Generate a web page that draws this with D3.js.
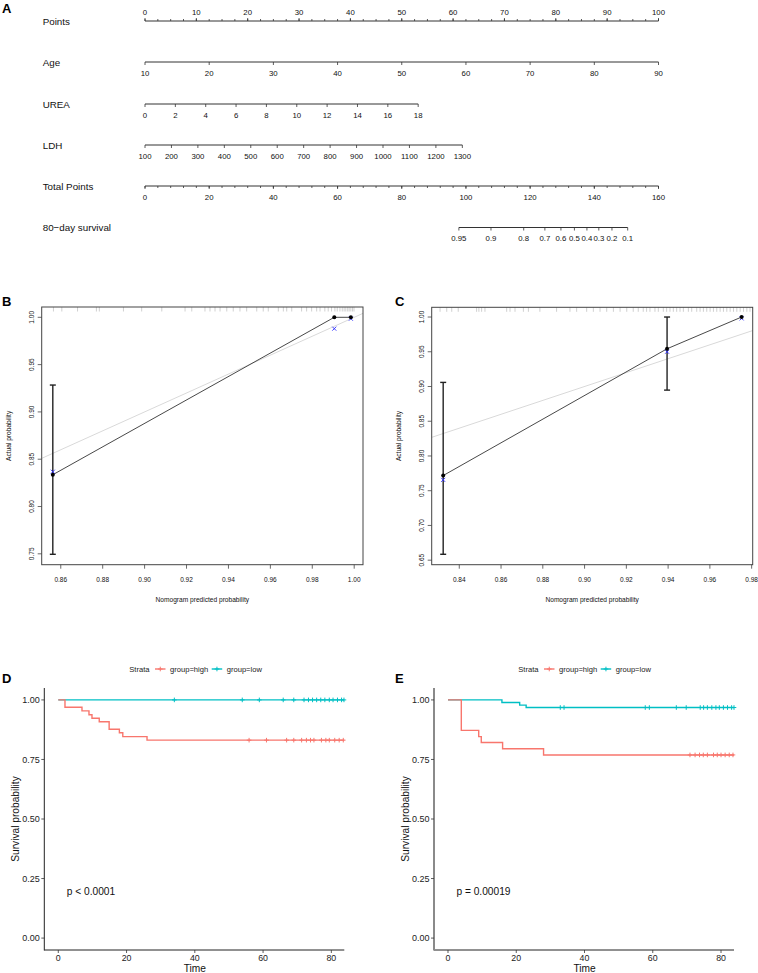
<!DOCTYPE html>
<html><head><meta charset="utf-8">
<script src="https://cdn.jsdelivr.net/npm/d3@7"></script>
<style>body{margin:0;background:#fff} svg text{font-family:"Liberation Sans",Arial,Helvetica,sans-serif}</style>
</head><body><svg id="c" width="758" height="973"></svg>
<script>
// ---------------- DATA ----------------
// Panel A nomogram
const nomoNames = ["Points","Age","UREA","LDH","Total Points","80\u2212day survival"];
const pointsLabels = [0,10,20,30,40,50,60,70,80,90,100];
const pointsMinor = [0,2.5,5,7.5,10,12.5,15,17.5,20,22.5,25,27.5,30,32.5,35,37.5,40,42.5,45,47.5,50,52.5,55,57.5,60,62.5,65,67.5,70,72.5,75,77.5,80,82.5,85,87.5,90,92.5,95,97.5,100];
const ageLabels = [10,20,30,40,50,60,70,80,90];
const ureaLabels = [0,2,4,6,8,10,12,14,16,18];
const ldhLabels = [100,200,300,400,500,600,700,800,900,1000,1100,1200,1300];
const totalLabels = [0,20,40,60,80,100,120,140,160];
const totalMinor = [0,4,8,12,16,20,24,28,32,36,40,44,48,52,56,60,64,68,72,76,80,84,88,92,96,100,104,108,112,116,120,124,128,132,136,140,144,148,152,156,160];
const survLabels = [0.95,0.9,0.8,0.7,0.6,0.5,0.4,0.3,0.2,0.1];
const survTotalPoints = [97.8,107.8,118.0,124.6,129.6,133.8,137.7,141.4,145.5,150.4];
const agePointsMax = 100, ureaPointsMax = 53.2, ldhPointsMax = 61.8;

// Panel B calibration
const bPred = [0.8562, 0.9905, 0.9984];
const bObs = [0.8336, 1.0, 1.0];
const bLo = [0.7495, null, null];
const bHi = [0.9284, null, null];
const bCorr = [0.8368, 0.988, 0.9985];
const bXTicks = [0.86,0.88,0.90,0.92,0.94,0.96,0.98,1.00];
const bYTicks = [0.75,0.80,0.85,0.90,0.95,1.00];
const bRug = [0.8565,0.8605,0.868,0.877,0.8784,0.8899,0.8986,0.9082,0.9193,0.9225,0.9288,0.9312,0.9336,0.936,0.9392,0.9423,0.9455,0.9487,0.9535,0.9566,0.959,0.9638,0.9662,0.9678,0.9702,0.9749,0.9773,0.9797,0.9821,0.9837,0.986,0.9876,0.9892,0.9908,0.9919,0.9932,0.9943,0.9952,0.996,0.9969,0.9976,0.9984,0.9992,0.9999];

// Panel C calibration
const cPred = [0.8323, 0.9395, 0.9752];
const cObs = [0.7718, 0.9543, 1.0];
const cLo = [0.6585, 0.8948, null];
const cHi = [0.9059, 1.0, null];
const cCorr = [0.7656, 0.95, 0.998];
const cXTicks = [0.84,0.86,0.88,0.90,0.92,0.94,0.96,0.98];
const cYTicks = [0.65,0.70,0.75,0.80,0.85,0.90,0.95,1.00];
const cRug = [0.8308,0.834,0.8364,0.8395,0.8483,0.8494,0.8507,0.8523,0.8627,0.8643,0.8667,0.8707,0.8731,0.8786,0.8866,0.893,0.8962,0.901,0.9042,0.9074,0.9106,0.9138,0.917,0.9202,0.9233,0.9257,0.9281,0.9297,0.9313,0.9337,0.9353,0.9377,0.9393,0.9409,0.9425,0.9441,0.9457,0.9473,0.9497,0.9513,0.9537,0.9553,0.9569,0.9585,0.9601,0.9617,0.9633,0.9649,0.9665,0.9681,0.9697,0.9713,0.9729,0.9745,0.9761,0.9777,0.9792];

// Panel D Kaplan-Meier
const dHighTime = [0,1.96,6.94,8.99,9.87,12.0,14.9,17.9,18.9,26.0];
const dHighSurv = [1,0.969,0.954,0.938,0.923,0.908,0.877,0.862,0.846,0.831];
const dHighCens = [55.9,61.0,66.9,69.0,71.3,72.7,73.9,74.9,77.1,78.4,79.4,81.0,82.3,83.5];
const dLowTime = [0];
const dLowSurv = [1];
const dLowCens = [34.0,53.9,58.9,65.9,69.0,72.0,73.3,74.5,75.7,76.9,78.1,79.4,80.5,81.8,83.0,83.7];
const dEnd = 83.8;
const dP = "p < 0.0001";

// Panel E Kaplan-Meier
const eHighTime = [0,3.9,9.0,9.75,16.0,28.0];
const eHighSurv = [1,0.872,0.846,0.821,0.795,0.769];
const eHighCens = [70.9,72.4,73.7,74.8,76.0,77.8,78.9,80.0,81.2,82.4,83.5];
const eLowTime = [0,15.8,21.0,22.9];
const eLowSurv = [1,0.989,0.978,0.968];
const eLowCens = [32.9,34.0,57.8,59.0,66.9,69.8,73.9,74.9,76.0,77.3,78.5,79.5,80.7,81.9,83.1,83.8];
const eEnd = 83.8;
const eP = "p = 0.00019";

const kmXTicks = [0,20,40,60,80];
const kmYTicks = [0,0.25,0.5,0.75,1];
const strata = ["group=high","group=low"];
const strataColors = ["#F8766D","#00BFC4"];

// ---------------- DRAW ----------------
const svg = d3.select("#c");
const FONT = '"Liberation Sans",Arial,sans-serif';

function panelLabel(t,x,y){
  svg.append("text").attr("x",x).attr("y",y).attr("font-size",13).attr("font-weight","bold").text(t);
}

// ===== Panel A =====
panelLabel("A",2,12.5);
const pointsX = d3.scaleLinear().domain([0,100]).range([145,658.5]);
const ageX = d3.scaleLinear().domain([10,90]).range([pointsX(0),pointsX(agePointsMax)]);
const ureaX = d3.scaleLinear().domain([0,18]).range([pointsX(0),pointsX(ureaPointsMax)]);
const ldhX = d3.scaleLinear().domain([100,1300]).range([pointsX(0),pointsX(ldhPointsMax)]);
const totalX = d3.scaleLinear().domain([0,160]).range([145,658.5]);
const rowY = [21,62,104,145,186,227.5];
const gA = svg.append("g");
nomoNames.forEach((n,i)=>{
  gA.append("text").attr("x",42.7).attr("y",rowY[i]+3.5).attr("font-size",9.8).attr("fill","#111").text(n);
});
function nomoAxis(y, positions, labels, minorPos, up){
  const g = gA.append("g");
  const xs = positions;
  g.append("line").attr("x1",d3.min(xs)).attr("x2",d3.max(xs)).attr("y1",y).attr("y2",y)
    .attr("stroke","#333").attr("stroke-width",1);
  const dir = up ? -1 : 1;
  (minorPos||[]).forEach(x=>{
    g.append("line").attr("x1",x).attr("x2",x).attr("y1",y).attr("y2",y+dir*2).attr("stroke","#333").attr("stroke-width",0.8);
  });
  xs.forEach((x,i)=>{
    g.append("line").attr("x1",x).attr("x2",x).attr("y1",y).attr("y2",y+dir*3).attr("stroke","#333").attr("stroke-width",0.8);
    g.append("text").attr("x",x).attr("y", up ? y-6.5 : y+13.5).attr("text-anchor","middle")
      .attr("font-size",7.8).attr("fill","#111").text(labels[i]);
  });
}
nomoAxis(rowY[0], pointsLabels.map(pointsX), pointsLabels, pointsMinor.map(pointsX), true);
nomoAxis(rowY[1], ageLabels.map(ageX), ageLabels, null, false);
nomoAxis(rowY[2], ureaLabels.map(ureaX), ureaLabels, null, false);
nomoAxis(rowY[3], ldhLabels.map(ldhX), ldhLabels, null, false);
nomoAxis(rowY[4], totalLabels.map(totalX), totalLabels, totalMinor.map(totalX), false);
nomoAxis(rowY[5], survTotalPoints.map(totalX), survLabels, null, false);

// ===== Calibration panels =====
function calib(o){
  const g = svg.append("g");
  const x = d3.scaleLinear().domain(o.xd).range([o.x0,o.x1]);
  const y = d3.scaleLinear().domain(o.yd).range([o.y1,o.y0]);
  const clipId = "clip"+o.id;
  g.append("clipPath").attr("id",clipId).append("rect").attr("x",o.x0).attr("y",o.y0).attr("width",o.x1-o.x0).attr("height",o.y1-o.y0);
  // ideal line
  g.append("line").attr("clip-path",`url(#${clipId})`)
    .attr("x1",x(o.xd[0])).attr("y1",y(o.xd[0])).attr("x2",x(o.xd[1])).attr("y2",y(o.xd[1]))
    .attr("stroke","#d9d9d9").attr("stroke-width",1);
  // rug
  o.rug.forEach(v=>{
    g.append("line").attr("x1",x(v)).attr("x2",x(v)).attr("y1",o.y0).attr("y2",o.y0+4.5)
      .attr("stroke","#b0b0b0").attr("stroke-width",0.6);
  });
  // connecting line
  const line = d3.line().x((d,i)=>x(o.pred[i])).y((d,i)=>y(o.obs[i]));
  g.append("path").datum(o.obs).attr("d",line).attr("fill","none").attr("stroke","#333").attr("stroke-width",0.9);
  // error bars
  o.pred.forEach((p,i)=>{
    if(o.lo[i]==null) return;
    const px = x(p);
    g.append("line").attr("x1",px).attr("x2",px).attr("y1",y(o.lo[i])).attr("y2",y(o.hi[i])).attr("stroke","#222").attr("stroke-width",1.4);
    [o.lo[i],o.hi[i]].forEach(v=>{
      g.append("line").attr("x1",px-3).attr("x2",px+3).attr("y1",y(v)).attr("y2",y(v)).attr("stroke","#222").attr("stroke-width",1.4);
    });
  });
  // corrected (blue x)
  o.corr.forEach((v,i)=>{
    const cx=x(o.pred[i]), cy=y(v), s=2;
    g.append("path").attr("d",`M${cx-s},${cy-s}L${cx+s},${cy+s}M${cx-s},${cy+s}L${cx+s},${cy-s}`)
      .attr("stroke","#2b2bff").attr("stroke-width",0.9).attr("fill","none");
  });
  // points
  o.obs.forEach((v,i)=>{
    g.append("circle").attr("cx",x(o.pred[i])).attr("cy",y(v)).attr("r",2).attr("fill","#000");
  });
  // box
  g.append("rect").attr("x",o.x0).attr("y",o.y0).attr("width",o.x1-o.x0).attr("height",o.y1-o.y0)
    .attr("fill","none").attr("stroke","#444").attr("stroke-width",1);
  // x ticks
  o.xt.forEach(t=>{
    g.append("line").attr("x1",x(t)).attr("x2",x(t)).attr("y1",o.y1).attr("y2",o.y1+4).attr("stroke","#444").attr("stroke-width",0.8);
    g.append("text").attr("x",x(t)).attr("y",o.y1+17.5).attr("text-anchor","middle").attr("font-size",6.5).attr("fill","#111").text(t.toFixed(2));
  });
  o.yt.forEach(t=>{
    g.append("line").attr("x1",o.x0).attr("x2",o.x0-4).attr("y1",y(t)).attr("y2",y(t)).attr("stroke","#444").attr("stroke-width",0.8);
    g.append("text").attr("transform",`translate(${o.x0-7.7},${y(t)}) rotate(-90)`).attr("text-anchor","middle")
      .attr("font-size",6.5).attr("fill","#111").text(t.toFixed(2));
  });
  g.append("text").attr("x",(o.x0+o.x1)/2).attr("y",602).attr("text-anchor","middle").attr("font-size",6.6).attr("fill","#111").text("Nomogram predicted probability");
  g.append("text").attr("transform",`translate(${o.x0-30.4},${(o.y0+o.y1)/2}) rotate(-90)`).attr("text-anchor","middle")
    .attr("font-size",6.6).attr("fill","#111").text("Actual probability");
}
panelLabel("B",2,306);
calib({id:"B",x0:41.7,x1:363,y0:307,y1:564.7,xd:[0.8509,1.0042],yd:[0.7385,1.0109],
  pred:bPred,obs:bObs,lo:bLo,hi:bHi,corr:bCorr,xt:bXTicks,yt:bYTicks,rug:bRug});
panelLabel("C",395,306);
calib({id:"C",x0:431.7,x1:752.7,y0:307.3,y1:564.7,xd:[0.8268,0.9805],yd:[0.6435,1.014],
  pred:cPred,obs:cObs,lo:cLo,hi:cHi,corr:cCorr,xt:cXTicks,yt:cYTicks,rug:cRug});

// ===== KM panels =====
function km(o){
  const g = svg.append("g");
  const x = d3.scaleLinear().domain([-4.1,83.8]).range([o.ax, o.ax+300]);
  const y = d3.scaleLinear().domain([-0.05,1.05]).range([950,688]);
  const stepLine = d3.line().x(d=>x(d[0])).y(d=>y(d[1])).curve(d3.curveStepAfter);
  function curve(times, surv, cens, end, color){
    const pts = times.map((t,i)=>[t,surv[i]]);
    pts.push([end, surv[surv.length-1]]);
    g.append("path").datum(pts).attr("d",stepLine).attr("fill","none").attr("stroke",color).attr("stroke-width",1.4);
    cens.forEach(c=>{
      let s = surv[0];
      times.forEach((t,i)=>{ if(t<=c) s = surv[i]; });
      const cx=x(c), cy=y(s);
      g.append("path").attr("d",`M${cx-2.3},${cy}H${cx+2.3}M${cx},${cy-2.3}V${cy+2.3}`).attr("stroke",color).attr("stroke-width",1);
    });
  }
  curve(o.lowT,o.lowS,o.lowC,o.end,strataColors[1]);
  curve(o.highT,o.highS,o.highC,o.end,strataColors[0]);
  // axes
  g.append("line").attr("x1",o.ax).attr("x2",o.ax+300).attr("y1",950).attr("y2",950).attr("stroke","#222").attr("stroke-width",1);
  g.append("line").attr("x1",o.ax).attr("x2",o.ax).attr("y1",688).attr("y2",950.5).attr("stroke",o.yAxisColor).attr("stroke-width",o.yAxisW);
  kmXTicks.forEach(t=>{
    g.append("line").attr("x1",x(t)).attr("x2",x(t)).attr("y1",950).attr("y2",953).attr("stroke","#333").attr("stroke-width",0.8);
    g.append("text").attr("x",x(t)).attr("y",961).attr("text-anchor","middle").attr("font-size",8.8).attr("fill","#222").text(t);
  });
  kmYTicks.forEach(t=>{
    g.append("line").attr("x1",o.ax).attr("x2",o.ax-3).attr("y1",y(t)).attr("y2",y(t)).attr("stroke","#333").attr("stroke-width",0.8);
    g.append("text").attr("x",o.ax-4.5).attr("y",y(t)+3.2).attr("text-anchor","end").attr("font-size",9).attr("fill","#222").text(t.toFixed(2));
  });
  g.append("text").attr("x",x(40)).attr("y",972).attr("text-anchor","middle").attr("font-size",10.2).attr("fill","#111").text("Time");
  g.append("text").attr("transform",`translate(${o.ax-25.5},${(688+950)/2}) rotate(-90)`).attr("text-anchor","middle")
    .attr("font-size",10.2).attr("fill","#111").text("Survival probability");
  g.append("text").attr("x",o.ax+22.4).attr("y",895).attr("font-size",10.2).attr("fill","#111").text(o.p);
  // legend
  const lx = o.lx, ly = 669;
  g.append("text").attr("x",lx).attr("y",ly+2.8).attr("font-size",7.6).attr("fill","#222").text("Strata");
  [[25.7,40.7],[82.4,97.4]].forEach((off,i)=>{
    const c = strataColors[i];
    g.append("line").attr("x1",lx+off[0]).attr("x2",lx+off[0]+10.5).attr("y1",ly).attr("y2",ly).attr("stroke",c).attr("stroke-width",1.4);
    const cx = lx+off[0]+5.25;
    g.append("path").attr("d",`M${cx-2.3},${ly}H${cx+2.3}M${cx},${ly-2.3}V${ly+2.3}`).attr("stroke",c).attr("stroke-width",1);
    g.append("text").attr("x",lx+off[1]).attr("y",ly+2.8).attr("font-size",7.6).attr("fill","#222").text(strata[i]);
  });
}
panelLabel("D",2,682.7);
km({ax:44.3,lx:129.3,highT:dHighTime,highS:dHighSurv,highC:dHighCens,lowT:dLowTime,lowS:dLowSurv,lowC:dLowCens,end:dEnd,p:dP,yAxisColor:"#222",yAxisW:1});
panelLabel("E",395,682.7);
km({ax:434,lx:518.3,highT:eHighTime,highS:eHighSurv,highC:eHighCens,lowT:eLowTime,lowS:eLowSurv,lowC:eLowCens,end:eEnd,p:eP,yAxisColor:"#8a8a8a",yAxisW:2});
</script></body></html>
